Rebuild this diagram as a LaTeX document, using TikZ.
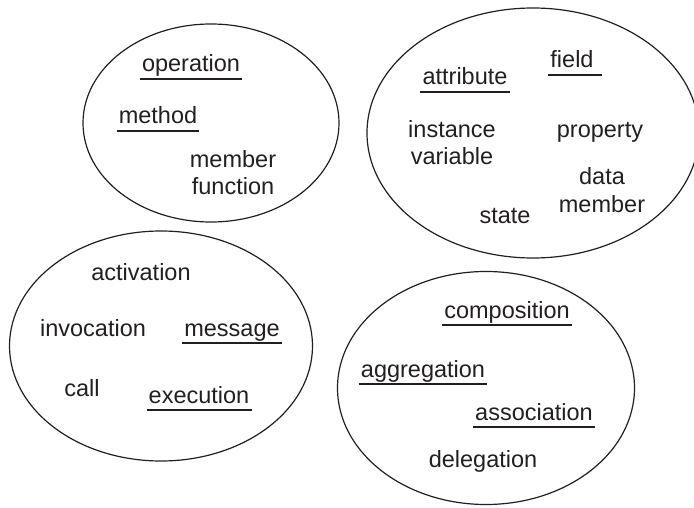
\documentclass[tikz,border=0pt]{standalone}
\usepackage{fontspec}
\setmainfont{Liberation Sans}
\usetikzlibrary{shapes.geometric}
\definecolor{ink}{RGB}{35,31,32}
\tikzset{
  group/.style={draw=ink, ellipse, line width=1.2pt, inner sep=0pt, outer sep=0pt},
  term/.style={text=ink, anchor=base, inner sep=0pt, align=center,
    font=\fontsize{23.5}{28}\selectfont},
  keyterm/.style={term, inner xsep=2pt, text depth=7pt},
  underline/.style={draw=ink, line width=1.5pt}
}
\begin{document}
\begin{tikzpicture}[x=1pt,y=-1pt]
\useasboundingbox (0,0) rectangle (694,508);

\node[group, minimum width=256pt, minimum height=198pt] (opgroup) at (211,123) {};
\node[group, minimum width=332pt, minimum height=250pt] (datagroup) at (533,133) {};
\node[group, minimum width=303pt, minimum height=230pt] (callgroup) at (161,346) {};
\node[group, minimum width=297pt, minimum height=233pt] (relgroup) at (486,388) {};

\node[keyterm] (operation) at (191,72) {operation};
\node[keyterm] (method) at (158,124) {method};
\node[term] (memberfn) at (233,195) {member\\function};

\node[keyterm] (field) at (572,68) {field};
\node[keyterm] (attribute) at (465,85) {attribute};
\node[term] (instvar) at (452,165) {instance\\variable};
\node[term] (property) at (600,138) {property};
\node[term] (datamember) at (602,212) {data\\member};
\node[term] (state) at (505,223) {state};

\node[term] (activation) at (141,280) {activation};
\node[term] (invocation) at (93,336) {invocation};
\node[keyterm] (message) at (232,336) {message};
\node[term] (call) at (82,396) {call};
\node[keyterm] (execution) at (199,403) {execution};

\node[keyterm] (composition) at (507,318) {composition};
\node[keyterm] (aggregation) at (423,377) {aggregation};
\node[keyterm] (association) at (534,420) {association};
\node[term] (delegation) at (483,467) {delegation};

\path[underline] (operation.south west) -- (operation.south east);
\path[underline] (method.south west) -- (method.south east);
\path[underline] (field.south west) -- ([xshift=6pt]field.south east);
\path[underline] (attribute.south west) -- (attribute.south east);
\path[underline] (message.south west) -- (message.south east);
\path[underline] (execution.south west) -- (execution.south east);
\path[underline] (composition.south west) -- (composition.south east);
\path[underline] (aggregation.south west) -- (aggregation.south east);
\path[underline] (association.south west) -- (association.south east);
\end{tikzpicture}
\end{document}
